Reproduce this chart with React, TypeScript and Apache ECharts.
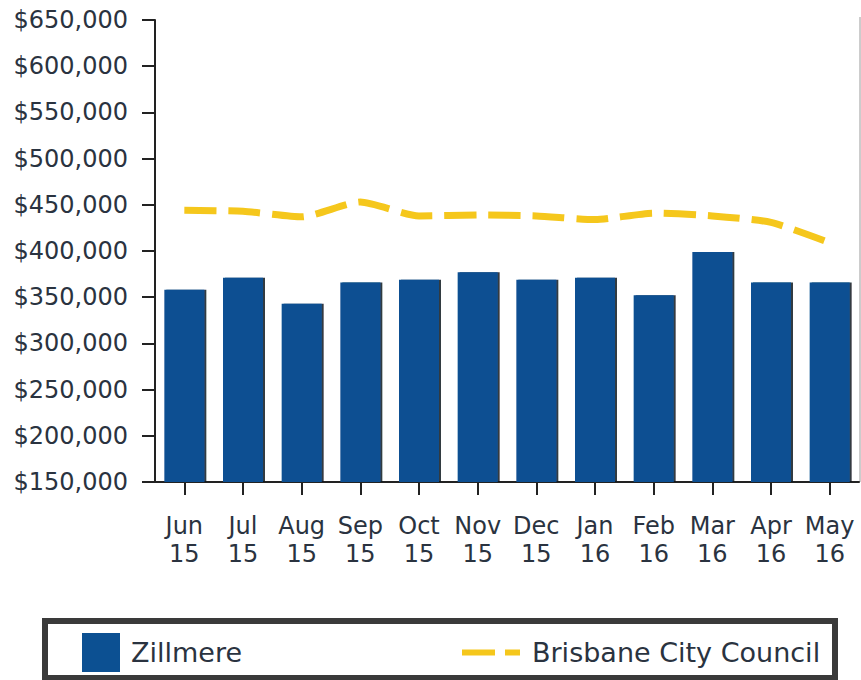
import React, { useEffect, useRef } from "react";
import * as echarts from "echarts";

const categories = ["Jun 15", "Jul 15", "Aug 15", "Sep 15", "Oct 15", "Nov 15", "Dec 15", "Jan 16", "Feb 16", "Mar 16", "Apr 16", "May 16"];
const zillmere = [358000, 371000, 343000, 366000, 369000, 377000, 369000, 371000, 352000, 399000, 366000, 366000];
const brisbane = [444000, 443000, 437000, 453000, 438000, 439000, 438000, 434000, 441000, 438000, 431000, 409000];
const yMin = 150000;
const yMax = 650000;
const yStep = 50000;

const FONT = "DejaVu Sans";
const TEXT = "#2a3340";
const AXIS = "#222222";

export default function App() {
  const ref = useRef<HTMLDivElement>(null);
  useEffect(() => {
    if (!ref.current) return;
    const chart = echarts.init(ref.current, null, { renderer: "svg" });
    chart.setOption({
      animation: false,
      backgroundColor: "#ffffff",
      grid: { left: 155, right: 2, top: 20, bottom: 198, containLabel: false },
      xAxis: {
        type: "category",
        data: categories,
        axisLine: { show: true, lineStyle: { color: AXIS, width: 2 } },
        axisTick: { show: true, alignWithLabel: true, length: 13, lineStyle: { color: AXIS, width: 2 } },
        axisLabel: {
          interval: 0,
          margin: 30,
          fontFamily: FONT,
          fontSize: 24,
          lineHeight: 28,
          color: TEXT,
          formatter: (v: string) => v.replace(" ", "\n"),
        },
      },
      yAxis: {
        type: "value",
        min: yMin,
        max: yMax,
        interval: yStep,
        splitLine: { show: false },
        axisLine: { show: true, lineStyle: { color: AXIS, width: 2 } },
        axisTick: { show: true, length: 13, lineStyle: { color: AXIS, width: 2 } },
        axisLabel: {
          margin: 27,
          fontFamily: FONT,
          fontSize: 24,
          color: TEXT,
          formatter: (v: number) => "$" + v.toLocaleString("en-US"),
        },
      },
      legend: [
        {
          data: [{ name: "Zillmere", icon: "rect" }],
          left: 82,
          top: 633,
          padding: 0,
          itemWidth: 38,
          itemHeight: 39,
          textStyle: { fontFamily: FONT, fontSize: 27, color: TEXT, padding: [0, 0, 0, 6] },
          selectedMode: false,
        },
        {
          data: [{ name: "Brisbane City Council", icon: "path://M0,0H33V6H0Z M43,0H58V6H43Z" }],
          left: 462,
          top: 639,
          padding: 0,
          itemWidth: 58,
          itemHeight: 6,
          textStyle: { fontFamily: FONT, fontSize: 27, color: TEXT, padding: [0, 0, 0, 7] },
          selectedMode: false,
        },
      ],
      graphic: [
        {
          type: "rect",
          shape: { x: 45, y: 621, width: 790, height: 57 },
          style: { fill: "none", stroke: "#3a3a3a", lineWidth: 6 },
          z: -1,
        },
        {
          type: "line",
          shape: { x1: 860, y1: 17, x2: 860, y2: 482 },
          style: { stroke: "#9a9a9a", lineWidth: 1 },
        },
      ],
      series: [
        {
          name: "Zillmere",
          type: "bar",
          data: zillmere,
          barWidth: 40,
          itemStyle: {
            color: "#0c5092",
            shadowColor: "rgba(10,20,35,0.85)",
            shadowOffsetX: 2,
            shadowOffsetY: 0,
            shadowBlur: 0,
          },
          z: 2,
        },
        {
          name: "Brisbane City Council",
          type: "line",
          data: brisbane,
          symbol: "none",
          smooth: 0.2,
          color: "#f5c71c",
          lineStyle: { color: "#f5c71c", width: 7, type: [32, 12], cap: "butt" },
          itemStyle: { color: "#f5c71c" },
          z: 3,
        },
      ],
    });
    return () => chart.dispose();
  }, []);
  return <div ref={ref} style={{ width: 861, height: 680, position: "absolute", left: 0, top: 0 }} />;
}
